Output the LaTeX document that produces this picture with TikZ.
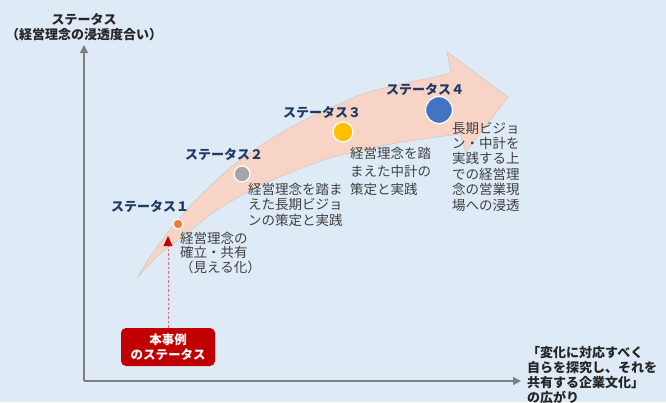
\documentclass[tikz,border=0pt]{standalone}
\usepackage{fontspec}
\setmainfont{Noto Sans CJK JP}
\usetikzlibrary{arrows.meta}
\definecolor{bg}{HTML}{DEEBF7}
\definecolor{swoosh}{HTML}{F8D4C6}
\definecolor{swooshline}{HTML}{CFC6C2}
\definecolor{navy}{HTML}{1F3864}
\definecolor{desc}{HTML}{404040}
\definecolor{axisgray}{HTML}{7F7F7F}
\definecolor{boxred}{HTML}{C00000}
\definecolor{dashred}{HTML}{E07080}
\definecolor{c1}{HTML}{ED7D31}
\definecolor{c2}{HTML}{A5A5A5}
\definecolor{c3}{HTML}{FFC000}
\definecolor{c4}{HTML}{4472C4}
\begin{document}
\begin{tikzpicture}[x=1pt,y=-1pt,
  stlabel/.style={font=\fontsize{13}{15}\selectfont\bfseries, text=navy, inner sep=0, anchor=center},
  desctext/.style={text=desc, inner sep=0, anchor=base west, align=left},
  dot/.style={draw=white, line width=1.3pt, circle, inner sep=0},
  axisline/.style={draw=axisgray, line width=1.1pt, -{Triangle[length=8pt,width=8pt]}},
  axistitle/.style={font=\fontsize{13}{16}\selectfont\bfseries, text=black!85, inner sep=0, align=center}
]
\useasboundingbox (0,0) rectangle (666,402);
\fill[bg] (0,0) rectangle (666,402);

% swoosh arrow
\draw[fill=swoosh, draw=swooshline, line width=0.5pt]
  plot[smooth, tension=0.6] coordinates {(137,278) (150,257) (163,239) (180,218) (197,199) (230,168) (263,144) (297,124) (330,108) (363,94) (397,85) (430,78) (451,73)}
  -- (447,52) -- (508,97) -- (466,152) -- (460,134)
  -- plot[smooth, tension=0.6] coordinates {(460,134) (430,138) (397,143) (363,150) (330,158) (297,170) (263,184) (230,202) (210,215) (185,235) (160,254) (137,278)}
  -- cycle;

% axes
\coordinate (origin) at (84,381);
\coordinate (ytop) at (84,45);
\coordinate (xend) at (521,381);
\draw[axisline] (origin) -- (ytop);
\draw[axisline] (origin) -- (xend);

% axis titles
\node[axistitle] (ytitle1) at (84,19) {ステータス};
\node[axistitle] (ytitle2) at (84,35) {（経営理念の浸透度合い）};
\node[text=black!85, font=\fontsize{13}{15}\selectfont\bfseries, inner sep=0, anchor=base west, align=left] (xtitle) at (527,402)
  {「変化に対応すべく\\自らを探究し、それを\\共有する企業文化」\\の広がり};

% dots
\node[dot, fill=c1, minimum size=10pt] (d1) at (178,224) {};
\node[dot, fill=c2, minimum size=16pt] (d2) at (242,174) {};
\node[dot, fill=c3, minimum size=20pt] (d3) at (343,132) {};
\node[dot, fill=c4, minimum size=27pt] (d4) at (439,110) {};

% status labels
\node[stlabel] (s1) at (150,206) {ステータス１};
\node[stlabel] (s2) at (224,154) {ステータス２};
\node[stlabel] (s3) at (322,112) {ステータス３};
\node[stlabel] (s4) at (425,89) {ステータス４};

% descriptions (base anchor = last line's baseline)
\node[desctext, font=\fontsize{13.5}{14.5}\selectfont] (t1) at (180,272) {経営理念の\\確立・共有\\（見える化）};
\node[desctext, font=\fontsize{13.5}{15.5}\selectfont] (t2) at (248,225) {経営理念を踏ま\\えた長期ビジョ\\ンの策定と実践};
\node[desctext, font=\fontsize{13.5}{18}\selectfont] (t3) at (350,194) {経営理念を踏\\まえた中計の\\策定と実践};
\node[desctext, font=\fontsize{13.5}{15.4}\selectfont] (t4) at (452,210) {長期ビジョ\\ン・中計を\\実践する上\\での経営理\\念の営業現\\場への浸透};

% red box
\node[fill=boxred, rounded corners=5pt, minimum width=94pt, minimum height=38pt, inner sep=0,
  text=white, font=\fontsize{12.5}{15}\selectfont\bfseries, align=center] (box) at (168,347) {本事例\\のステータス};
\coordinate (redtip) at (168,236);
\draw[dashred, line width=0.9pt, dash pattern=on 2.5pt off 2pt] (box.north) -- (168,246);
\fill[boxred] (redtip) -- (163.5,246) -- (172.5,246) -- cycle;
\end{tikzpicture}
\end{document}
